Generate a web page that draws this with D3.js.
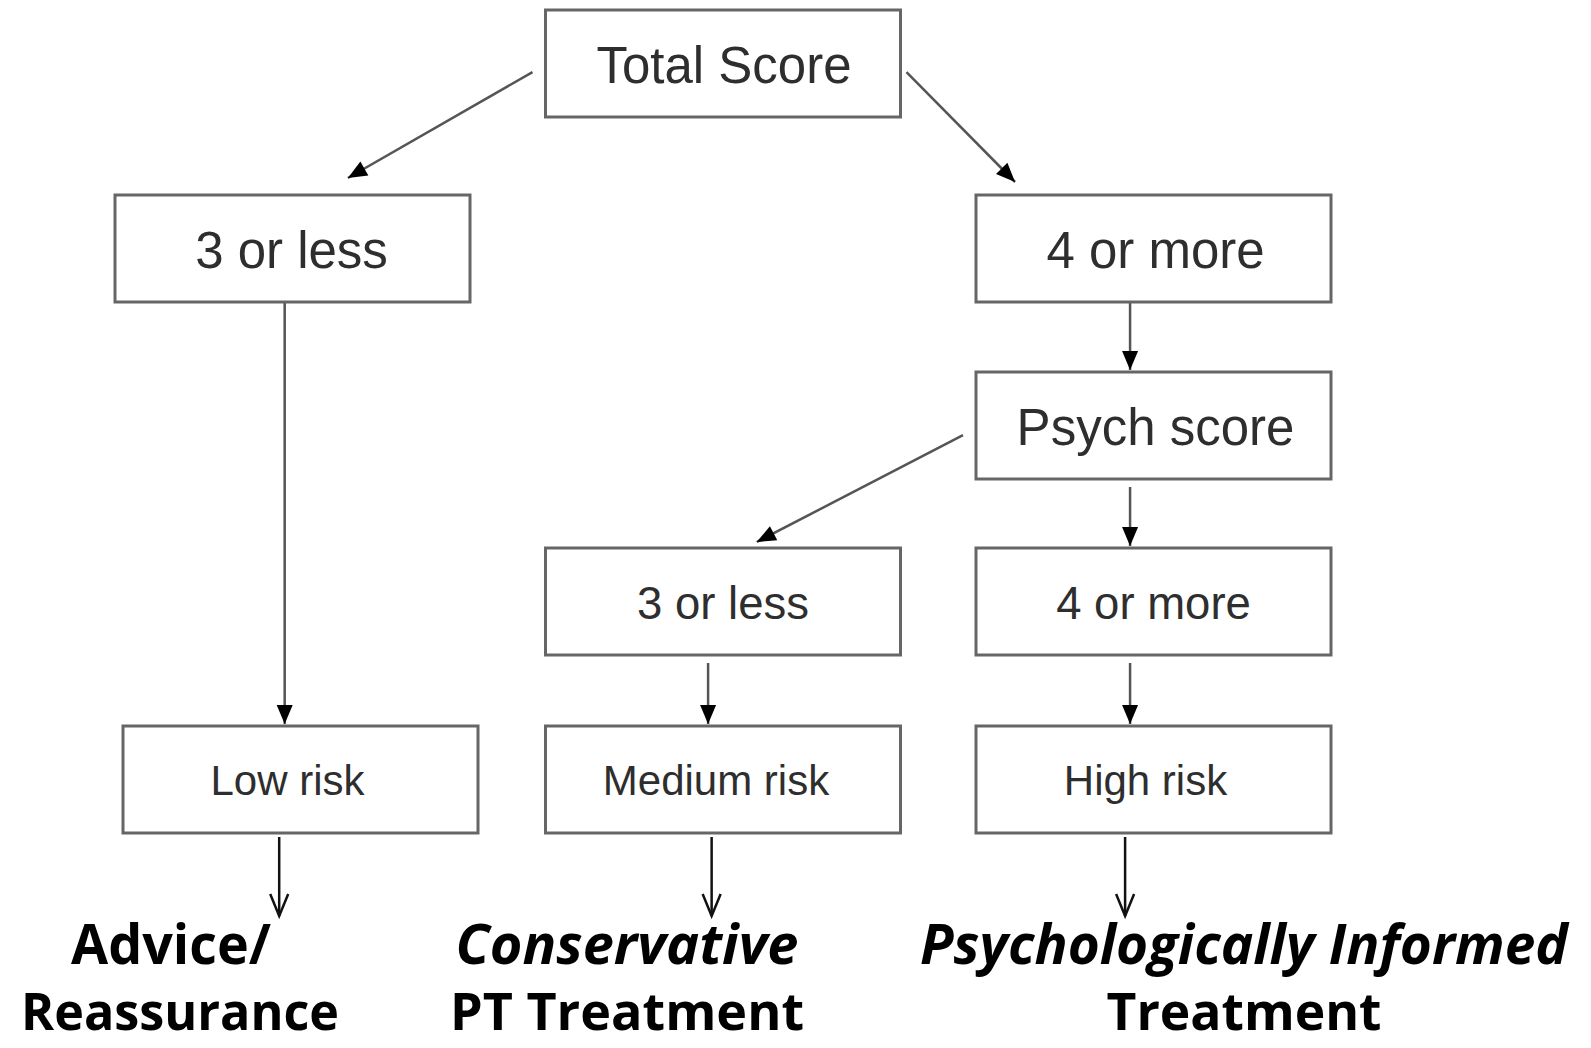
<!DOCTYPE html>
<html lang="en">
<head>
    <meta charset="UTF-8">
    <title>Risk stratification flow</title>
    <style type="text/css">
        body { margin: 0; background: #fff; }
        .box { fill: #fff; stroke: #666; stroke-width: 3; }
        .box-label { fill: #2e2e2e; font-family: "Liberation Sans", Arial, sans-serif; text-anchor: middle; }
        .link { fill: none; stroke: #555; stroke-width: 2.5; }
        .out-link { fill: none; stroke: #111; stroke-width: 2.5; }
        .outcome { fill: #000; font-family: "Open Sans", "Noto Sans", sans-serif; font-weight: 700; text-anchor: middle; }
    </style>
</head>
<body>
    <svg></svg>

    <script src="https://d3js.org/d3.v7.min.js"></script>
    <script>
        // nodes of the flow
        var nodeLabels = ["Total Score", "3 or less", "4 or more", "Psych score", "3 or less", "4 or more", "Low risk", "Medium risk", "High risk"];
        var nodeCol = [1, 0, 2, 2, 1, 2, 0, 1, 2];
        var nodeRow = [0, 1, 1, 2, 3, 3, 4, 4, 4];
        var nodeFontSize = [51, 51, 51, 51, 45.5, 45.5, 42, 42, 42];

        // arrows between boxes
        var linkSource = [0, 0, 1, 2, 3, 3, 4, 5];
        var linkTarget = [1, 2, 6, 3, 4, 5, 7, 8];

        // what each risk group gets
        var outcomeLine1 = ["Advice/", "Conservative", "Psychologically Informed"];
        var outcomeLine2 = ["Reassurance", "PT Treatment", "Treatment"];
        var outcomeItalic1 = [false, true, true];
        var outcomeFrom = [6, 7, 8];

        var width = 1591, height = 1048;
        var boxW = 355, boxH = 107;

        var svg = d3.select("svg")
            .attr("width", width)
            .attr("height", height);

        var x = d3.scaleLinear().domain([0, 2]).range([115, 976]);
        var y = d3.scaleOrdinal().domain([0, 1, 2, 3, 4]).range([10, 195, 372, 548, 726]);
        var nudgeX = { 6: 8 }; // low risk box sits a little to the right
        var labelShift = [1, -1, 2, 2, 0, 0, -13, -7, -8]; // labels are not quite centred

        var nodes = nodeLabels.map(function(label, i) {
            var x0 = x(nodeCol[i]) + (nudgeX[i] || 0);
            var y0 = y(nodeRow[i]);
            return { label: label, x0: x0, y0: y0, x1: x0 + boxW, y1: y0 + boxH, size: nodeFontSize[i], shift: labelShift[i] };
        });

        var defs = svg.append("defs");
        defs.append("marker")
            .attr("id", "tri")
            .attr("markerUnits", "userSpaceOnUse")
            .attr("viewBox", "-20 -9 22 18")
            .attr("refX", 0).attr("refY", 0)
            .attr("markerWidth", 22).attr("markerHeight", 18)
            .attr("orient", "auto")
            .append("path")
            .attr("d", "M-19,-8 L0,0 L-19,8 Z")
            .attr("fill", "#000");
        defs.append("marker")
            .attr("id", "vee")
            .attr("markerUnits", "userSpaceOnUse")
            .attr("viewBox", "-24 -12 28 24")
            .attr("refX", 0).attr("refY", 0)
            .attr("markerWidth", 28).attr("markerHeight", 24)
            .attr("orient", "auto")
            .append("path")
            .attr("d", "M-22,-9 L0,0 L-22,9")
            .attr("fill", "none")
            .attr("stroke", "#111")
            .attr("stroke-width", 2.5);

        // endpoints of each arrow, worked out from its two boxes
        function linkPoints(s, t) {
            var a = nodes[s], b = nodes[t];
            if (nodeCol[s] === nodeCol[t]) {
                var lx = a.x0 + (nodeCol[s] === 0 ? 0.478 : 0.434) * boxW;
                if (nodeCol[s] === 1) lx = a.x0 + 0.458 * boxW;
                var gap = nodeRow[s] >= 2 ? 8 : 0;
                return [[lx, a.y1 + gap], [lx, b.y0 - 2]];
            }
            var goLeft = nodeCol[t] < nodeCol[s];
            var sx = goLeft ? a.x0 - 13 : a.x1 + 6;
            var sy = a.y0 + (nodeRow[s] === 0 ? 0.58 : 0.59) * boxH;
            var tx, ty;
            if (nodeRow[s] === 0) {
                tx = goLeft ? b.x0 + 0.656 * boxW : b.x0 + 0.11 * boxW;
                ty = b.y0 - (goLeft ? 17 : 13);
            } else {
                tx = b.x0 + 0.595 * boxW;
                ty = b.y0 - 6;
            }
            return [[sx, sy], [tx, ty]];
        }

        var line = d3.line();

        svg.selectAll(".link")
            .data(linkSource.map(function(s, i) { return linkPoints(s, linkTarget[i]); }))
            .enter()
            .append("path")
            .attr("class", "link")
            .attr("d", function(d) { return line(d); })
            .attr("marker-end", "url(#tri)");

        var g = svg.selectAll(".node")
            .data(nodes)
            .enter()
            .append("g")
            .attr("class", "node");

        g.append("rect")
            .attr("class", "box")
            .attr("x", function(d) { return d.x0; })
            .attr("y", function(d) { return d.y0; })
            .attr("width", boxW)
            .attr("height", boxH);

        g.append("text")
            .attr("class", "box-label")
            .attr("x", function(d) { return (d.x0 + d.x1) / 2 + d.shift; })
            .attr("y", function(d) { return (d.y0 + d.y1) / 2 + d.size * 0.38; })
            .style("font-size", function(d) { return d.size + "px"; })
            .text(function(d) { return d.label; });

        // arrows down to the treatment text
        var outFrac = [0.44, 0.468, 0.42];
        svg.selectAll(".out-link")
            .data(outcomeFrom)
            .enter()
            .append("path")
            .attr("class", "out-link")
            .attr("d", function(n, i) {
                var b = nodes[n];
                var lx = b.x0 + outFrac[i] * boxW;
                return line([[lx, b.y1 + 4], [lx, 916]]);
            })
            .attr("marker-end", "url(#vee)");

        var outX = [171, 627, 1244];
        var len1 = [200, 343, 648];
        var len2 = [318, 354, 275];

        svg.selectAll(".outcome1")
            .data(outcomeLine1)
            .enter()
            .append("text")
            .attr("class", "outcome")
            .attr("x", function(d, i) { return outX[i]; })
            .attr("y", 964)
            .style("font-size", "56px")
            .style("font-style", function(d, i) { return outcomeItalic1[i] ? "italic" : "normal"; })
            .attr("textLength", function(d, i) { return len1[i]; })
            .attr("lengthAdjust", "spacingAndGlyphs")
            .text(function(d) { return d; });

        svg.selectAll(".outcome2")
            .data(outcomeLine2)
            .enter()
            .append("text")
            .attr("class", "outcome")
            .attr("x", function(d, i) { return outX[i] + (i === 0 ? 9 : 0); })
            .attr("y", 1030)
            .style("font-size", "52px")
            .attr("textLength", function(d, i) { return len2[i]; })
            .attr("lengthAdjust", "spacingAndGlyphs")
            .text(function(d) { return d; });
    </script>
</body>
</html>
